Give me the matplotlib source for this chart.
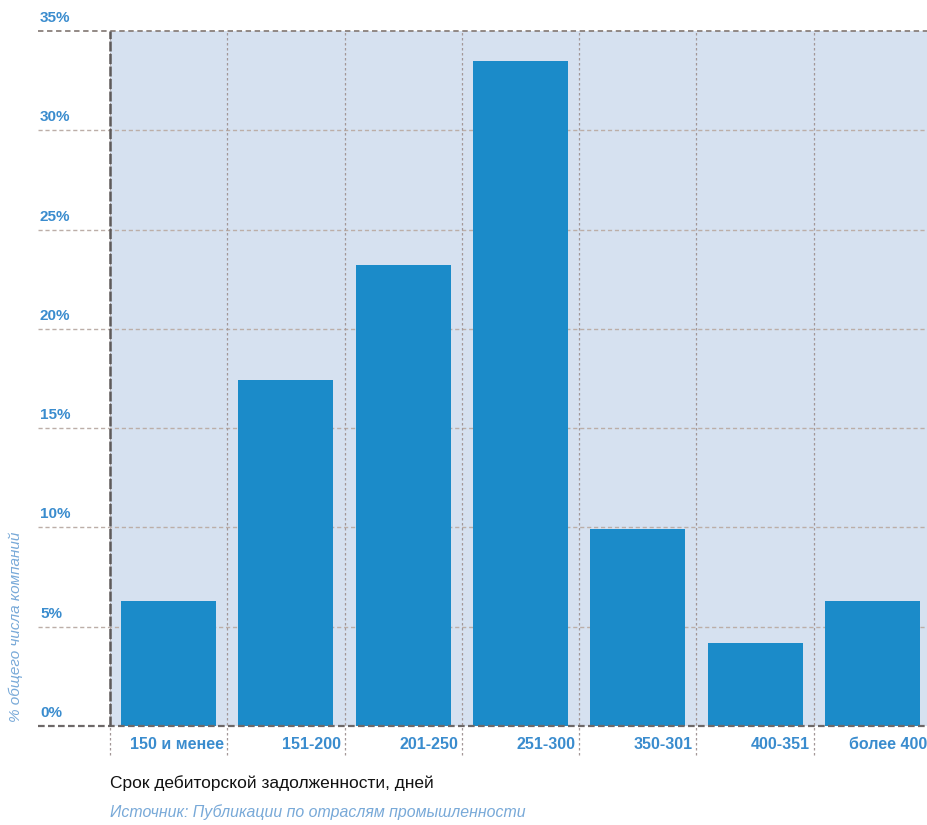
import matplotlib
matplotlib.use("Agg")
import matplotlib.pyplot as plt
import matplotlib.transforms as mtransforms

categories = ["150 и менее", "151-200", "201-250", "251-300", "350-301", "400-351", "более 400"]
shares = [6.3, 17.4, 23.2, 33.5, 9.9, 4.2, 6.3]
yticks = [0, 5, 10, 15, 20, 25, 30, 35]
ytick_labels = ["0%", "5%", "10%", "15%", "20%", "25%", "30%", "35%"]

FONT = ["Liberation Sans Narrow", "Liberation Sans", "DejaVu Sans"]
plt.rcParams["font.family"] = FONT

BAR = "#1b8bc9"
BG = "#d6e1f0"
TICK_BLUE = "#3a8cce"
LIGHT_BLUE = "#78a9d8"
GRID = "#bcaea8"

fig = plt.figure(figsize=(9.28, 8.25), dpi=100)
ax = fig.add_axes([110 / 928, 1 - 726 / 825, 821 / 928, 695 / 825])
ax.set_facecolor(BG)
ax.set_xlim(-0.5, 6.5)
ax.set_ylim(0, 35)

x = list(range(len(categories)))
ax.bar(x, shares, width=0.81, color=BAR, zorder=3)

# horizontal grid lines reaching out under the tick labels
left_ext = -72 / 821
for y in yticks[1:-1]:
    ax.axhline(y, xmin=left_ext, xmax=1, color=GRID, lw=1.0, ls=(0, (3, 2)),
               clip_on=False, zorder=2)
ax.axhline(35, xmin=left_ext, xmax=1, color="#8a807c", lw=1.3, ls=(0, (3, 2)),
           clip_on=False, zorder=4)
ax.axhline(0, xmin=left_ext, xmax=1, color="#6d6868", lw=1.6, ls=(0, (3, 1.5)),
           clip_on=False, zorder=4)

# vertical separators between categories, extending below the axis
below = -35 / 695 * 29
for xb in [-0.5, 0.5, 1.5, 2.5, 3.5, 4.5, 5.5]:
    ax.plot([xb, xb], [below, 35], color="#a39797", lw=0.9, ls=(0, (2, 2)),
            clip_on=False, zorder=2)
ax.plot([-0.5, -0.5], [0, 35], color="#5e5a5a", lw=1.8, ls=(0, (4, 1)),
        clip_on=False, zorder=4)

for s in ax.spines.values():
    s.set_visible(False)
ax.set_xticks([])
ax.set_yticks([])

# y tick labels sitting above their grid lines
tr = mtransforms.blended_transform_factory(ax.transAxes, ax.transData)
for y, lab in zip(yticks, ytick_labels):
    ax.text(-70 / 821, y + 0.3, lab, transform=tr, ha="left", va="bottom",
            color=TICK_BLUE, fontsize=11, fontweight="bold", clip_on=False)

# category labels right-aligned to each column edge
for i, lab in enumerate(categories):
    ax.text(i + 0.47, -0.95, lab, ha="right", va="center", color=TICK_BLUE,
            fontsize=11.5, fontweight="bold", clip_on=False)

fig.text(16 / 928, 1 - 722 / 825, "% общего числа компаний", rotation=90,
         ha="center", va="bottom", color=LIGHT_BLUE, fontsize=11, style="italic")
fig.text(110 / 928, 1 - 783 / 825, "Срок дебиторской задолженности, дней",
         ha="left", va="center", color="#111111", fontsize=12.5)
fig.text(110 / 928, 1 - 812 / 825, "Источник: Публикации по отраслям промышленности",
         ha="left", va="center", color=LIGHT_BLUE, fontsize=11.4, style="italic")

fig.savefig("out.png", dpi=100)
